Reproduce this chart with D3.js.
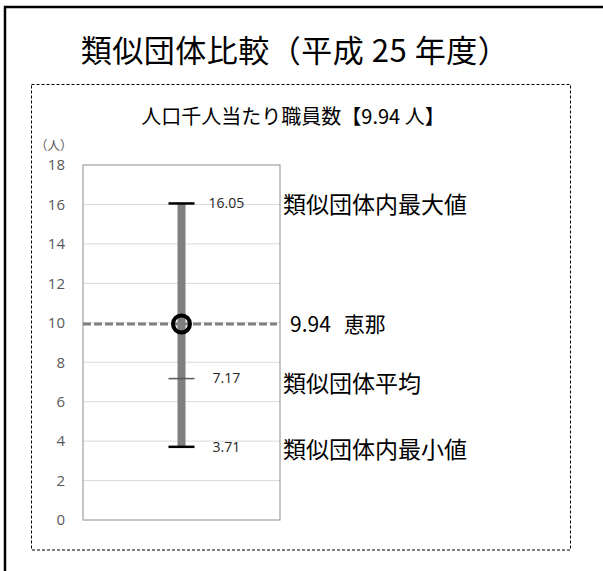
<!DOCTYPE html>
<html lang="ja">
<head>
<meta charset="UTF-8">
<title>類似団体比較</title>
<script src="https://d3js.org/d3.v7.min.js"></script>
<style>
  body { margin: 0; background: #fff; }
  svg { display: block; }
  .jp { font-family: "Noto Sans CJK JP", "Noto Sans", sans-serif; fill: #000; }
  .tick text { font-family: "Open Sans", "Noto Sans", sans-serif; font-size: 15px; fill: #595959; }
  .val { font-family: "Open Sans", "Noto Sans", sans-serif; font-size: 14px; fill: #262626; }
</style>
</head>
<body>
<svg width="603" height="571"></svg>
<script>
// data
const yTicks = [0, 2, 4, 6, 8, 10, 12, 14, 16, 18];
const stats = ["max", "mean", "min"];
const statValues = [16.05, 7.17, 3.71];
const statLabels = ["類似団体内最大値", "類似団体平均", "類似団体内最小値"];
const selfName = "恵那";
const selfValue = 9.94;

const svg = d3.select("svg");

// outer frame (runs off the right/bottom edge)
svg.append("rect")
  .attr("x", 5).attr("y", 7)
  .attr("width", 640).attr("height", 600)
  .attr("fill", "none").attr("stroke", "#000").attr("stroke-width", 2.5);

svg.append("text").attr("class", "jp")
  .attr("x", 295).attr("y", 62)
  .attr("text-anchor", "middle")
  .attr("font-size", 31)
  .attr("letter-spacing", 0.5)
  .text("類似団体比較（平成 25 年度）");

// dashed chart box
svg.append("rect")
  .attr("x", 31.5).attr("y", 84.5)
  .attr("width", 539).attr("height", 465.5)
  .attr("fill", "none").attr("stroke", "#000").attr("stroke-width", 1)
  .attr("stroke-dasharray", "3,2");

svg.append("text").attr("class", "jp")
  .attr("x", 293).attr("y", 124)
  .attr("text-anchor", "middle")
  .attr("font-size", 20)
  .text("人口千人当たり職員数【" + selfValue + " 人】");

const pLeft = 83, pRight = 280, pTop = 165, pBottom = 520;
const y = d3.scaleLinear().domain([0, 18]).range([pBottom, pTop]);
const x = d3.scalePoint().domain(["a"]).range([pLeft, pRight]).padding(0.5);
const cx = x("a");

// gridlines
svg.append("g").selectAll("line")
  .data(yTicks.filter(d => d > 0 && d < 18))
  .join("line")
  .attr("x1", pLeft).attr("x2", pRight)
  .attr("y1", d => y(d)).attr("y2", d => y(d))
  .attr("stroke", "#d9d9d9").attr("stroke-width", 1);

// plot border
svg.append("rect")
  .attr("x", pLeft).attr("y", pTop)
  .attr("width", pRight - pLeft).attr("height", pBottom - pTop)
  .attr("fill", "none").attr("stroke", "#8c8c8c").attr("stroke-width", 1);

// y axis labels
const yAxis = svg.append("g")
  .attr("transform", `translate(${pLeft - 18},0)`)
  .call(d3.axisLeft(y).tickValues(yTicks).tickSize(0).tickPadding(0));
yAxis.select(".domain").remove();

svg.append("text").attr("class", "jp")
  .attr("x", 35).attr("y", 150)
  .attr("font-size", 12.5)
  .style("fill", "#595959")
  .text("（人）");

// range bar
svg.append("line")
  .attr("x1", cx).attr("x2", cx)
  .attr("y1", y(statValues[0])).attr("y2", y(statValues[2]))
  .attr("stroke", "#7f7f7f").attr("stroke-width", 8);

// caps
svg.append("g").selectAll("line")
  .data(stats)
  .join("line")
  .attr("x1", cx - 13).attr("x2", cx + 13)
  .attr("y1", (d, i) => y(statValues[i])).attr("y2", (d, i) => y(statValues[i]))
  .attr("stroke", d => d === "mean" ? "#595959" : "#000")
  .attr("stroke-width", d => d === "mean" ? 1.5 : 2.5);

// value labels
svg.append("g").selectAll("text")
  .data(stats)
  .join("text")
  .attr("class", "val")
  .attr("x", (d, i) => i === 0 ? cx + 27 : cx + 31)
  .attr("y", (d, i) => y(statValues[i]))
  .attr("dy", "0.35em")
  .text((d, i) => statValues[i].toFixed(2));

// own value dashed line + marker
svg.append("line")
  .attr("x1", pLeft).attr("x2", pRight - 3)
  .attr("y1", y(selfValue)).attr("y2", y(selfValue))
  .attr("stroke", "#7f7f7f").attr("stroke-width", 3)
  .attr("stroke-dasharray", "8,3");

svg.append("circle")
  .attr("cx", cx).attr("cy", y(selfValue)).attr("r", 8.5)
  .attr("fill", "none").attr("stroke", "#000").attr("stroke-width", 4);

// right-hand labels
svg.append("g").selectAll("text")
  .data(stats)
  .join("text")
  .attr("class", "jp")
  .attr("x", pRight + 3)
  .attr("y", (d, i) => y(statValues[i]) + (i === 0 ? 1 : i === 1 ? 5 : 3))
  .attr("dy", "0.35em")
  .attr("font-size", 23)
  .text((d, i) => statLabels[i]);

const selfLabel = svg.append("text").attr("class", "jp")
  .attr("x", pRight + 10)
  .attr("y", y(selfValue) + 1)
  .attr("dy", "0.35em")
  .attr("font-size", 21);
selfLabel.append("tspan").text(selfValue);
selfLabel.append("tspan").attr("dx", 13).text(selfName);
</script>
</body>
</html>
